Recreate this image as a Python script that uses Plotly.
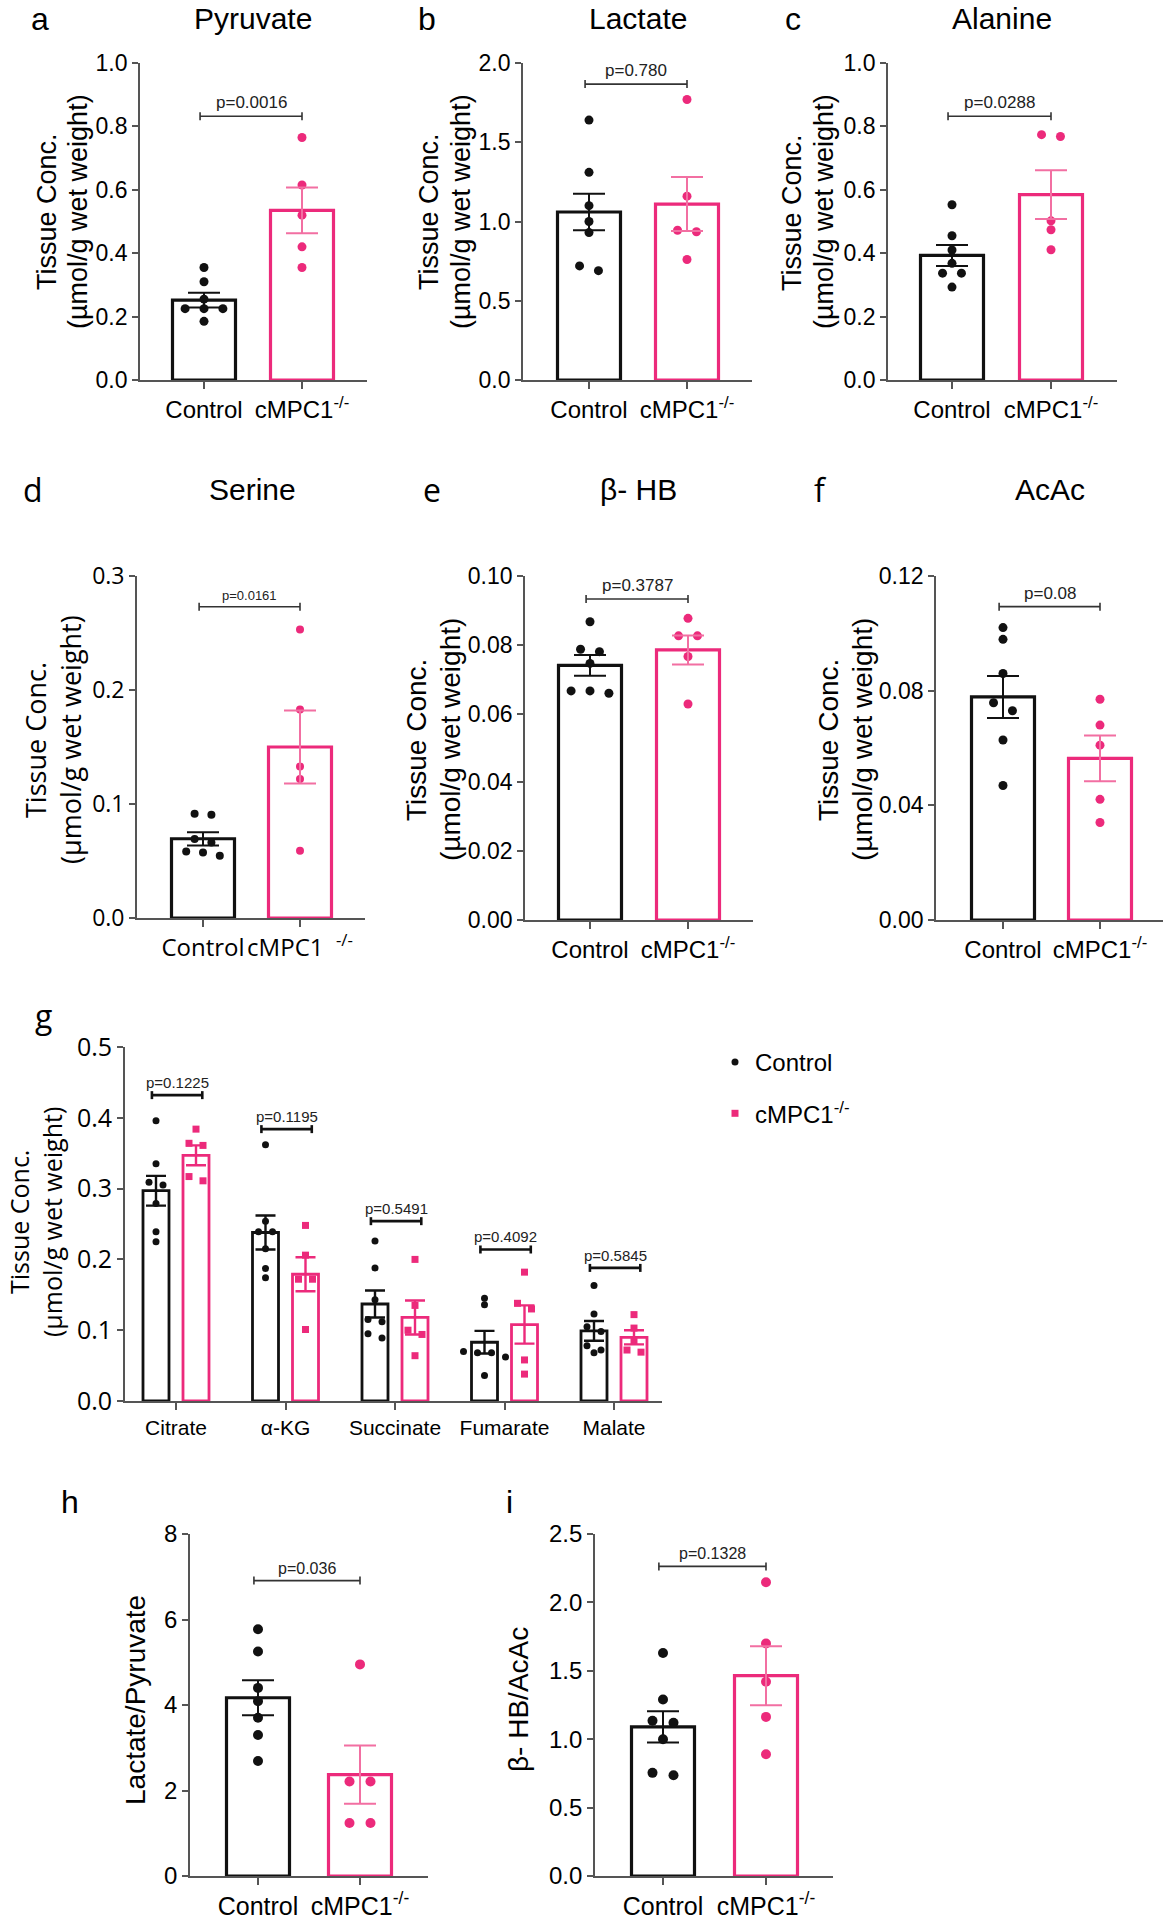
import plotly.graph_objects as go

W, H = 1165, 1920
BLACK = "#111111"
PINK = "#EC2A7B"
PINK_ERR = "#F26FA2"
AXIS = "#555555"
ARIAL = "Liberation Sans, Arial, sans-serif"
SEGOE = "Open Sans, sans-serif"

# ---------------- data ----------------
GROUPS = ["Control", "cMPC1<sup>-/-</sup>"]
GROUPS_D = ["Control", "cMPC1 &nbsp;<sup>-/-</sup>"]

pyruvate_control = [0.355, 0.31, 0.255, 0.225, 0.225, 0.225, 0.185]
pyruvate_ko = [0.765, 0.615, 0.52, 0.42, 0.355]
pyruvate_mean = [0.252, 0.535]
pyruvate_sem = [0.023, 0.072]

lactate_control = [1.64, 1.31, 1.10, 1.00, 0.93, 0.72, 0.69]
lactate_ko = [1.77, 1.16, 0.945, 0.935, 0.76]
lactate_mean = [1.06, 1.11]
lactate_sem = [0.115, 0.17]

alanine_control = [0.553, 0.455, 0.41, 0.368, 0.337, 0.337, 0.293]
alanine_ko = [0.774, 0.768, 0.502, 0.474, 0.411]
alanine_mean = [0.393, 0.585]
alanine_sem = [0.033, 0.077]

serine_control = [0.0914, 0.0906, 0.0692, 0.0663, 0.0584, 0.0575, 0.0546]
serine_ko = [0.253, 0.183, 0.133, 0.122, 0.059]
serine_mean = [0.0695, 0.150]
serine_sem = [0.0058, 0.032]

bhb_control = [0.0867, 0.0787, 0.078, 0.0746, 0.0666, 0.0666, 0.0659]
bhb_ko = [0.0877, 0.0826, 0.0826, 0.0766, 0.0628]
bhb_mean = [0.0740, 0.0785]
bhb_sem = [0.0030, 0.0042]

acac_control = [0.102, 0.0979, 0.086, 0.0758, 0.073, 0.0628, 0.0469]
acac_ko = [0.077, 0.068, 0.061, 0.0421, 0.034]
acac_mean = [0.0778, 0.0564]
acac_sem = [0.0073, 0.0080]

lp_control = [5.77, 5.25, 4.40, 4.09, 3.70, 3.30, 2.69]
lp_ko = [4.95, 2.21, 2.21, 1.24, 1.24]
lp_mean = [4.17, 2.37]
lp_sem = [0.41, 0.68]

ratio_control = [1.63, 1.29, 1.135, 1.12, 1.0, 0.754, 0.737]
ratio_ko = [2.147, 1.70, 1.42, 1.163, 0.89]
ratio_mean = [1.09, 1.464]
ratio_sem = [0.115, 0.215]

p_values = ["p=0.0016", "p=0.780", "p=0.0288", "p=0.0161", "p=0.3787", "p=0.08",
            "p=0.036", "p=0.1328"]
bracket_levels = [0.832, 1.867, 0.832, 0.273, 0.0933, 0.1093, 6.91, 2.263]

tca_names = ["Citrate", "α-KG", "Succinate", "Fumarate", "Malate"]
tca_control_points = [
    [0.396, 0.335, 0.309, 0.305, 0.279, 0.239, 0.225],
    [0.362, 0.254, 0.239, 0.239, 0.215, 0.187, 0.174],
    [0.226, 0.188, 0.143, 0.115, 0.112, 0.095, 0.089],
    [0.145, 0.136, 0.070, 0.068, 0.068, 0.062, 0.036],
    [0.163, 0.123, 0.105, 0.098, 0.078, 0.072, 0.068],
]
tca_ko_points = [
    [0.384, 0.364, 0.361, 0.317, 0.311],
    [0.248, 0.206, 0.172, 0.172, 0.101],
    [0.200, 0.135, 0.100, 0.094, 0.064],
    [0.182, 0.138, 0.130, 0.058, 0.038],
    [0.122, 0.103, 0.084, 0.072, 0.069],
]
tca_control_mean = [0.297, 0.238, 0.137, 0.083, 0.099]
tca_control_sem = [0.021, 0.024, 0.019, 0.016, 0.014]
tca_ko_mean = [0.347, 0.179, 0.118, 0.108, 0.090]
tca_ko_sem = [0.014, 0.024, 0.024, 0.027, 0.010]
tca_p = ["p=0.1225", "p=0.1195", "p=0.5491", "p=0.4092", "p=0.5845"]
tca_bracket = [0.432, 0.384, 0.254, 0.214, 0.188]

# ---------------- layout geometry (page pixels) ----------------
TC1, TC2 = "Tissue Conc.", "(µmol/g wet weight)"
panels = [
    dict(ctrl=pyruvate_control, ko=pyruvate_ko, mean=pyruvate_mean, sem=pyruvate_sem,
         xl=140, xr=367, yt=63, yb=380, t0=204, t1=302, ymax=1.0, dtick=0.2, fmt=".1f",
         font=ARIAL, ms=9, ylab=[(TC1, 47), (TC2, 78)], yly=212, yls=27,
         groups=GROUPS, psize=17),
    dict(ctrl=lactate_control, ko=lactate_ko, mean=lactate_mean, sem=lactate_sem,
         xl=523, xr=752, yt=63, yb=380, t0=589, t1=687, ymax=2.0, dtick=0.5, fmt=".1f",
         font=ARIAL, ms=9, ylab=[(TC1, 429), (TC2, 461)], yly=212, yls=27,
         groups=GROUPS, psize=17),
    dict(ctrl=alanine_control, ko=alanine_ko, mean=alanine_mean, sem=alanine_sem,
         xl=888, xr=1117, yt=63, yb=380, t0=952, t1=1051, ymax=1.0, dtick=0.2, fmt=".1f",
         font=ARIAL, ms=9, ylab=[(TC1, 792), (TC2, 824)], yly=212, yls=27,
         groups=GROUPS, psize=17),
    dict(ctrl=serine_control, ko=serine_ko, mean=serine_mean, sem=serine_sem,
         xl=137, xr=365, yt=576, yb=918, t0=203, t1=300, ymax=0.3, dtick=0.1, fmt=".1f",
         font=SEGOE, ms=8, ylab=[(TC1, 35), (TC2, 70)], yly=740, yls=27,
         groups=GROUPS_D, psize=13),
    dict(ctrl=bhb_control, ko=bhb_ko, mean=bhb_mean, sem=bhb_sem,
         xl=525, xr=753, yt=576, yb=920, t0=590, t1=688, ymax=0.10, dtick=0.02, fmt=".2f",
         font=ARIAL, ms=9, ylab=[(TC1, 416), (TC2, 450)], yly=740, yls=28,
         groups=GROUPS, psize=17),
    dict(ctrl=acac_control, ko=acac_ko, mean=acac_mean, sem=acac_sem,
         xl=936, xr=1163, yt=576, yb=920, t0=1003, t1=1100, ymax=0.12, dtick=0.04, fmt=".2f",
         font=ARIAL, ms=9, ylab=[(TC1, 828), (TC2, 862)], yly=740, yls=28,
         groups=GROUPS, psize=17),
    dict(ctrl=lp_control, ko=lp_ko, mean=lp_mean, sem=lp_sem,
         xl=190, xr=428, yt=1534, yb=1876, t0=258, t1=360, ymax=8, dtick=2, fmt="d",
         font=ARIAL, ms=10, ylab=[("Lactate/Pyruvate", 135)], yly=1700, yls=28,
         groups=GROUPS, psize=16),
    dict(ctrl=ratio_control, ko=ratio_ko, mean=ratio_mean, sem=ratio_sem,
         xl=595, xr=833, yt=1534, yb=1876, t0=663, t1=766, ymax=2.5, dtick=0.5, fmt=".1f",
         font=ARIAL, ms=10, ylab=[("β- HB/AcAc", 518)], yly=1700, yls=28,
         groups=GROUPS, psize=16),
]


def px2x(px):
    return px / W


def px2y(py):
    return 1 - py / H


def swarm(values, px_per_unit, diam, spacing_units):
    order = sorted(range(len(values)), key=lambda i: -values[i])
    rows = []
    for i in order:
        if rows and (values[rows[-1][0]] - values[i]) * px_per_unit < 0.9 * diam:
            rows[-1].append(i)
        else:
            rows.append([i])
    offs = [0.0] * len(values)
    for r in rows:
        n = len(r)
        for k, i in enumerate(r):
            offs[i] = (k - (n - 1) / 2) * spacing_units
    return offs


fig = go.Figure()
layout = dict(width=W, height=H, autosize=False,
              margin=dict(l=0, r=0, t=0, b=0, pad=0, autoexpand=False),
              paper_bgcolor="white", plot_bgcolor="white", showlegend=True)
shapes = []
annotations = []


def axis_names(n):
    return ("x" if n == 1 else f"x{n}", "y" if n == 1 else f"y{n}",
            "xaxis" if n == 1 else f"xaxis{n}", "yaxis" if n == 1 else f"yaxis{n}")


def add_bracket(xr_, yr_, x0, x1, yv, text, size, lw, color, font):
    shapes.append(dict(type="line", xref=xr_, yref=yr_, x0=x0, x1=x1, y0=yv, y1=yv,
                       line=dict(color=color, width=lw)))
    for xe in (x0, x1):
        shapes.append(dict(type="line", xref=xr_, yref=yr_, x0=xe, x1=xe,
                           ysizemode="pixel", yanchor=yv, y0=-4, y1=4,
                           line=dict(color=color, width=lw)))
    annotations.append(dict(xref=xr_, yref=yr_, x=(x0 + x1) / 2, y=yv, text=text,
                            showarrow=False, yanchor="bottom", yshift=2,
                            font=dict(size=size, family=font, color="#222222")))


def style_axes(n, xl, xr, yt, yb, xrange, ymax, dtick, fmt, tickvals, ticktext,
               yfont, xfont, yfs, xfs):
    xr_, yr_, xk, yk = axis_names(n)
    layout[xk] = dict(domain=[px2x(xl), px2x(xr)], anchor=yr_, range=xrange,
                      showline=True, linecolor=AXIS, linewidth=1.8, ticks="outside",
                      ticklen=7, tickwidth=1.8, tickcolor=AXIS, tickvals=tickvals,
                      ticktext=ticktext, showgrid=False, zeroline=False, automargin=False,
                      tickfont=dict(family=xfont, size=xfs, color="black"), fixedrange=True)
    layout[yk] = dict(domain=[px2y(yb), px2y(yt)], anchor=xr_, range=[0, ymax],
                      showline=True, linecolor=AXIS, linewidth=1.8, ticks="outside",
                      ticklen=6, tickwidth=1.8, tickcolor=AXIS, dtick=dtick, tick0=0,
                      tickformat=fmt, showgrid=False, zeroline=False, automargin=False,
                      tickfont=dict(family=yfont, size=yfs, color="black"), fixedrange=True)


for idx, p in enumerate(panels):
    n = idx + 1
    xr_, yr_, xk, yk = axis_names(n)
    sp = p["t1"] - p["t0"]
    xrange = [(p["xl"] - p["t0"]) / sp, (p["xr"] - p["t0"]) / sp]
    big = idx >= 6
    style_axes(n, p["xl"], p["xr"], p["yt"], p["yb"], xrange, p["ymax"], p["dtick"],
               p["fmt"], [0, 1], p["groups"], p["font"], p["font"],
               24 if big else 23, 25 if big else 24)
    bw = 63 / sp
    fig.add_trace(go.Bar(x=[0, 1], y=p["mean"], width=bw, xaxis=xr_, yaxis=yr_,
                         marker=dict(color="white", line=dict(color=[BLACK, PINK], width=3.2)),
                         showlegend=False, hoverinfo="skip"))
    ppu = (p["yb"] - p["yt"]) / p["ymax"]
    spacing = 2.1 * p["ms"] / sp
    for gi, (vals, col) in enumerate([(p["ctrl"], BLACK), (p["ko"], PINK)]):
        offs = swarm(vals, ppu, p["ms"], spacing)
        fig.add_trace(go.Scatter(x=[gi + o for o in offs], y=vals, mode="markers",
                                 xaxis=xr_, yaxis=yr_, showlegend=False,
                                 marker=dict(color=col, size=p["ms"], line=dict(width=0))))
    for gi, col in enumerate([BLACK, PINK_ERR]):
        fig.add_trace(go.Scatter(x=[gi], y=[p["mean"][gi]], mode="markers",
                                 xaxis=xr_, yaxis=yr_, showlegend=False,
                                 marker=dict(size=1, color="rgba(0,0,0,0)"),
                                 error_y=dict(type="data", array=[p["sem"][gi]], color=col,
                                              thickness=2, width=16)))
    add_bracket(xr_, yr_, -0.04, 1.0, bracket_levels[idx], p_values[idx], p["psize"],
                1.6, "#333333", ARIAL)
    for txt, lx in p["ylab"]:
        annotations.append(dict(xref="paper", yref="paper", x=px2x(lx), y=px2y(p["yly"]),
                                text=txt, textangle=-90, showarrow=False, xanchor="center",
                                yanchor="middle",
                                font=dict(size=p["yls"], family=p["font"], color="black")))

# ---------------- panel g ----------------
n = 9
xr_, yr_, xk, yk = axis_names(n)
g_xl, g_xr, g_yt, g_yb, g_t0, g_sp = 125, 662, 1047, 1401, 176, 109.5
g_ymax = 0.5
xrange = [(g_xl - g_t0) / g_sp, (g_xr - g_t0) / g_sp]
style_axes(n, g_xl, g_xr, g_yt, g_yb, xrange, g_ymax, 0.1, ".1f",
           list(range(len(tca_names))), tca_names, SEGOE, ARIAL, 25, 21)
g_off = 20 / g_sp
g_bw = 26 / g_sp
g_ms = 7
g_ppu = (g_yb - g_yt) / g_ymax
g_spacing = 2.0 * g_ms / g_sp
ctrl_x = [i - g_off for i in range(len(tca_names))]
ko_x = [i + g_off for i in range(len(tca_names))]
fig.add_trace(go.Bar(x=ctrl_x, y=tca_control_mean, width=g_bw, xaxis=xr_, yaxis=yr_,
                     marker=dict(color="white", line=dict(color=BLACK, width=2.8)),
                     showlegend=False, hoverinfo="skip"))
fig.add_trace(go.Bar(x=ko_x, y=tca_ko_mean, width=g_bw, xaxis=xr_, yaxis=yr_,
                     marker=dict(color="white", line=dict(color=PINK, width=2.8)),
                     showlegend=False, hoverinfo="skip"))
cx, cy, kx, ky = [], [], [], []
for i in range(len(tca_names)):
    o = swarm(tca_control_points[i], g_ppu, g_ms, g_spacing)
    cx += [ctrl_x[i] + v for v in o]
    cy += tca_control_points[i]
    o = swarm(tca_ko_points[i], g_ppu, g_ms, g_spacing)
    kx += [ko_x[i] + v for v in o]
    ky += tca_ko_points[i]
fig.add_trace(go.Scatter(x=cx, y=cy, mode="markers", xaxis=xr_, yaxis=yr_, name="Control",
                         legendgroup="c", marker=dict(color=BLACK, size=g_ms, symbol="circle")))
fig.add_trace(go.Scatter(x=kx, y=ky, mode="markers", xaxis=xr_, yaxis=yr_,
                         name="cMPC1<sup>-/-</sup>", legendgroup="k",
                         marker=dict(color=PINK, size=g_ms, symbol="square")))
fig.add_trace(go.Scatter(x=ctrl_x, y=tca_control_mean, mode="markers", xaxis=xr_, yaxis=yr_,
                         showlegend=False, marker=dict(size=1, color="rgba(0,0,0,0)"),
                         error_y=dict(type="data", array=tca_control_sem, color=BLACK,
                                      thickness=2.4, width=10)))
fig.add_trace(go.Scatter(x=ko_x, y=tca_ko_mean, mode="markers", xaxis=xr_, yaxis=yr_,
                         showlegend=False, marker=dict(size=1, color="rgba(0,0,0,0)"),
                         error_y=dict(type="data", array=tca_ko_sem, color=PINK,
                                      thickness=2.4, width=10)))
for i in range(len(tca_names)):
    add_bracket(xr_, yr_, i - 0.22, i + 0.24, tca_bracket[i], tca_p[i], 15, 2.6, BLACK, ARIAL)
for txt, lx in [(TC1, 19), (TC2, 52)]:
    annotations.append(dict(xref="paper", yref="paper", x=px2x(lx), y=px2y(1222),
                            text=txt, textangle=-90, showarrow=False, xanchor="center",
                            yanchor="middle", font=dict(size=25, family=SEGOE, color="black")))

layout["legend"] = dict(x=px2x(737 - 22), y=px2y(1040), xanchor="left", yanchor="top",
                        font=dict(size=24, family=ARIAL, color="black"),
                        tracegroupgap=17, bgcolor="rgba(0,0,0,0)")

# ---------------- titles & panel letters ----------------
titles = [("Pyruvate", 253, 19), ("Lactate", 638, 19), ("Alanine", 1002, 19),
          ("Serine", 252, 490), ("β- HB", 638, 490), ("AcAc", 1050, 490)]
for t, x, y in titles:
    annotations.append(dict(xref="paper", yref="paper", x=px2x(x), y=px2y(y), text=t,
                            showarrow=False, xanchor="center", yanchor="middle",
                            font=dict(size=30, family=ARIAL, color="black")))
letters = [("a", 40, 19), ("b", 427, 19), ("c", 793, 19), ("d", 33, 490),
           ("e", 432, 490), ("f", 820, 490), ("g", 43, 1015), ("h", 70, 1502),
           ("i", 509, 1502)]
for t, x, y in letters:
    annotations.append(dict(xref="paper", yref="paper", x=px2x(x), y=px2y(y), text=t,
                            showarrow=False, xanchor="center", yanchor="middle",
                            font=dict(size=32, family=SEGOE if t in "defg" else ARIAL,
                                      color="black")))

layout["shapes"] = shapes
layout["annotations"] = annotations
fig.update_layout(**layout)
# remove the default 8 px body margin so the figure fills the 1165x1920 page exactly
fig.write_html("out.html", config={"displayModeBar": False},
               post_script="document.body.style.margin='0px';")
